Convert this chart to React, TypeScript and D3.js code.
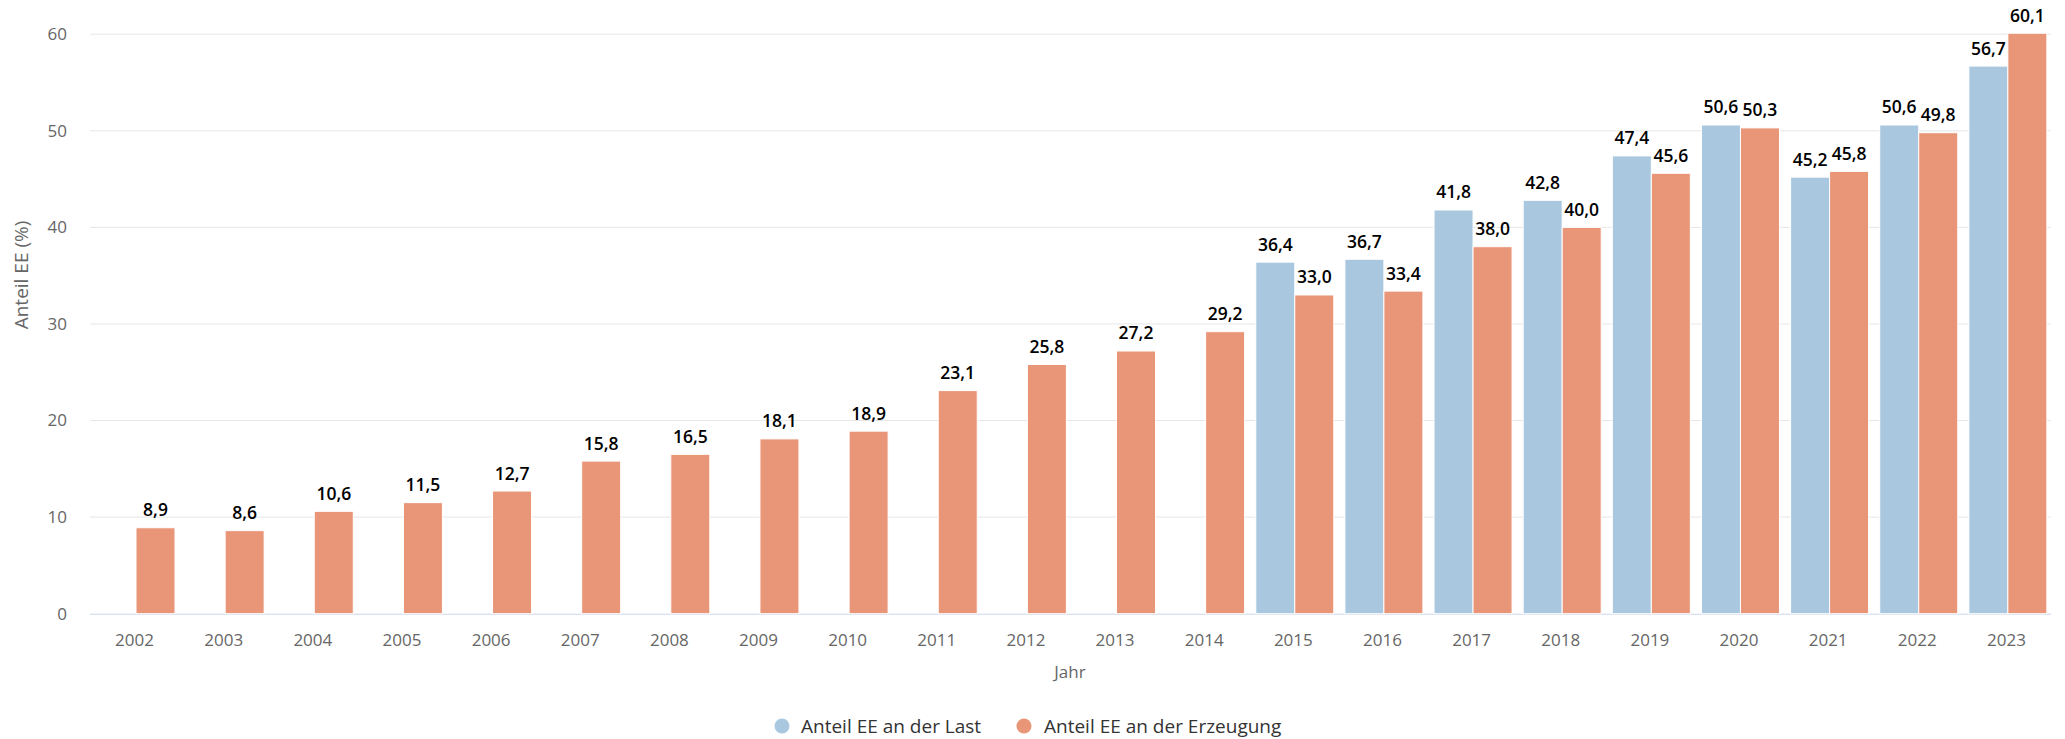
import React from "react";
import * as d3 from "d3";

const years = ["2002","2003","2004","2005","2006","2007","2008","2009","2010","2011","2012","2013","2014","2015","2016","2017","2018","2019","2020","2021","2022","2023"];
const anteilLast: (number | null)[] = [null,null,null,null,null,null,null,null,null,null,null,null,null,36.4,36.7,41.8,42.8,47.4,50.6,45.2,50.6,56.7];
const anteilErzeugung: (number | null)[] = [8.9,8.6,10.6,11.5,12.7,15.8,16.5,18.1,18.9,23.1,25.8,27.2,29.2,33.0,33.4,38.0,40.0,45.6,50.3,45.8,49.8,60.1];
const yTicks = [0,10,20,30,40,50,60];
const seriesNames = ["Anteil EE an der Last","Anteil EE an der Erzeugung"];
const seriesColors = ["#a9c8e0","#e99577"];

const W = 2065, H = 739;
const FONT = "'Open Sans', sans-serif";

export default function App() {
  const x = d3.scaleBand<string>().domain(years).range([90, 2051]).padding(0);
  const bw = x.bandwidth();
  const inner = d3.scaleBand<string>().domain(["0","1"]).range([7, 85]).padding(0);
  const y = d3.scaleLinear().domain([0, 60]).range([613.7, 34.2]);
  const fmt = (v: number) => v.toFixed(1).replace(".", ",");
  const series = [anteilLast, anteilErzeugung];

  return (
    <svg width={W} height={H} style={{ position: "absolute", left: 0, top: 0, background: "#fff" }} fontFamily={FONT}>
      {yTicks.map((t) => (
        <g key={t}>
          {t !== 0 && <line x1={90} x2={2051} y1={y(t)} y2={y(t)} stroke="#e6e6e6" strokeWidth={1} />}
          <text x={67} y={y(t)} dy="0.35em" textAnchor="end" fontSize={17} fill="#666">{t}</text>
        </g>
      ))}
      <line x1={90} x2={2051} y1={y(0) + 0.5} y2={y(0) + 0.5} stroke="#ccd6eb" strokeWidth={1} />
      {series.map((vals, si) =>
        vals.map((v, i) => {
          if (v == null) return null;
          const bx = (x(years[i]) as number) + (inner(String(si)) as number);
          const w = inner.bandwidth();
          const top = y(v);
          return (
            <g key={`${si}-${i}`}>
              <rect x={bx} y={top} width={w} height={y(0) - top} fill={seriesColors[si]} stroke="#fff" strokeWidth={1} />
              <text x={bx + w / 2} y={top - 11.5} textAnchor="middle" fontSize={17.5} fontWeight={600} fill="#000">{fmt(v)}</text>
            </g>
          );
        })
      )}
      {years.map((yr) => (
        <text key={yr} x={(x(yr) as number) + bw / 2} y={646} textAnchor="middle" fontSize={17} fill="#666">{yr}</text>
      ))}
      <text x={1070} y={678} textAnchor="middle" fontSize={17} fill="#666">Jahr</text>
      <text transform={`translate(28,275) rotate(-90)`} textAnchor="middle" fontSize={19} fill="#666">Anteil EE (%)</text>
      <g>
        <circle cx={782} cy={726} r={7.5} fill={seriesColors[0]} />
        <text x={801} y={732.5} fontSize={19} fill="#333">{seriesNames[0]}</text>
        <circle cx={1024} cy={726} r={7.5} fill={seriesColors[1]} />
        <text x={1044} y={732.5} fontSize={19} fill="#333">{seriesNames[1]}</text>
      </g>
    </svg>
  );
}
